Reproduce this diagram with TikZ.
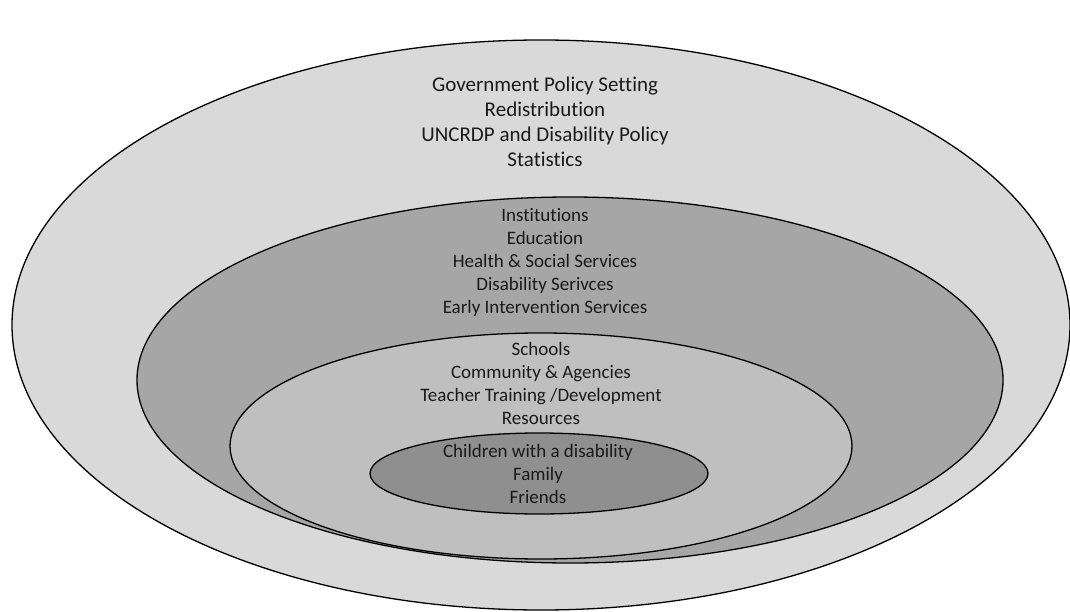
\documentclass[tikz,border=0pt]{standalone}
\usepackage{fontspec}
\setmainfont[Ligatures=NoCommon]{Carlito}
\usetikzlibrary{shapes.geometric}
\definecolor{policygray}{HTML}{D9D9D9}
\definecolor{instgray}{HTML}{A6A6A6}
\definecolor{schoolgray}{HTML}{BFBFBF}
\definecolor{childgray}{HTML}{8F8F8F}
\definecolor{textgray}{HTML}{1A1A1A}
\tikzset{
  ring/.style={ellipse, draw=black, line width=1.3pt, inner sep=0pt, outer sep=0pt},
  bigtext/.style={align=center, text=textgray, inner sep=0pt, font=\fontsize{21}{25}\selectfont},
  smalltext/.style={align=center, text=textgray, inner sep=0pt, font=\fontsize{19}{23}\selectfont},
}
\begin{document}
\begin{tikzpicture}[x=1pt, y=-1pt]
  \useasboundingbox (0,0) rectangle (1070,612);
  \fill[white] (0,0) rectangle (1070,612);
  % nested levels, from the outermost inwards
  \node[ring, fill=policygray, minimum width=1058, minimum height=570] (policy) at (541,325) {};
  \node[ring, fill=instgray, minimum width=866, minimum height=366] (institutions) at (570,380) {};
  \node[ring, fill=schoolgray, minimum width=622, minimum height=226] (schools) at (541,446) {};
  \node[ring, fill=childgray, minimum width=338, minimum height=81] (child) at (539,473.5) {};
  % labels of each level
  \node[bigtext] (policytext) at (545,122) {Government Policy Setting\\Redistribution\\UNCRDP and Disability Policy\\Statistics};
  \node[smalltext] (insttext) at (545,262) {Institutions\\Education\\Health \& Social Services\\Disability Serivces\\Early Intervention Services};
  \node[smalltext] (schooltext) at (541,383) {Schools\\Community \& Agencies\\Teacher Training /Development\\Resources};
  \node[smalltext] (childtext) at (538,474) {Children with a disability\\Family\\Friends};
\end{tikzpicture}
\end{document}
